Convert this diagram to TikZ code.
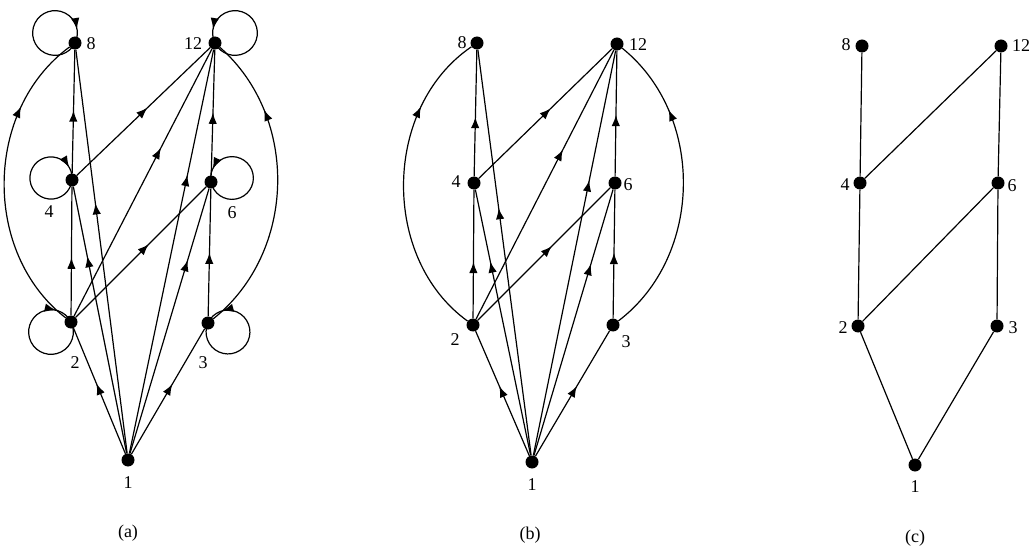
\documentclass[tikz,border=0pt]{standalone}
\usepackage{fontspec}
\setmainfont{Liberation Serif}
\usetikzlibrary{arrows.meta,decorations.markings}
\begin{document}
\begin{tikzpicture}[x=1pt,y=1pt,
  vtx/.style={circle,fill=black,inner sep=0pt,minimum size=13pt},
  lbl/.style={inner sep=0pt,font=\fontsize{18}{20}\selectfont},
  ln/.style={line width=1.2pt},
  arr/.style={ln,decoration={markings,mark=at position #1 with {\arrow[scale=1.35]{Latex}}},postaction={decorate}}
]
\useasboundingbox (0,0) rectangle (1029,550);

% ---------------- (a) ----------------
\node[vtx] (a8)  at (75,507) {};
\node[vtx] (a12) at (215,507) {};
\node[vtx] (a4)  at (72,370) {};
\node[vtx] (a6)  at (211,368) {};
\node[vtx] (a2)  at (71,228) {};
\node[vtx] (a3)  at (208,227) {};
\node[vtx] (a1)  at (128,90) {};
\node[lbl] (la8)  at (91,506) {8};
\node[lbl] (la12) at (193,506) {12};
\node[lbl] (la4)  at (49,338) {4};
\node[lbl] (la6)  at (232,337) {6};
\node[lbl] (la2)  at (75,187) {2};
\node[lbl] (la3)  at (203,187) {3};
\node[lbl] (la1)  at (128,67) {1};
\node[lbl] (lac)  at (128,17) {(a)};

\draw[arr=0.56] (a1) -- (a2);
\draw[arr=0.56] (a1) -- (a3);
\draw[arr=0.74] (a1) -- (a4);
\draw[arr=0.73] (a1) -- (a6);
\draw[arr=0.62] (a1) -- (a8);
\draw[arr=0.69] (a1) -- (a12);
\draw[arr=0.45] (a2) -- (a4);
\draw[arr=0.56] (a2) -- (a6);
\draw[arr=0.63] (a2) -- (a12);
\draw[arr=0.50] (a3) -- (a6);
\draw[arr=0.51] (a4) -- (a8);
\draw[arr=0.53] (a4) -- (a12);
\draw[arr=0.50] (a6) -- (a12);
\draw[arr=0.75] (a2) to[bend left=53] (a8);
\draw[arr=0.75] (a3) to[bend right=50] (a12);
\draw[arr=0.90] (a8.center) arc[start angle=333.43, end angle=-26.57, radius=22.36];
\draw[arr=0.90] (a12.center) arc[start angle=-153.43, end angle=206.57, radius=22.36];
\draw[arr=0.90] (a4.center) arc[start angle=354.56, end angle=-5.44, radius=21.1];
\draw[arr=0.90] (a6.center) arc[start angle=-169.22, end angle=190.78, radius=21.38];
\draw[arr=0.86] (a2.center) arc[start angle=386.57, end angle=26.57, radius=22.36];
\draw[arr=0.86] (a3.center) arc[start angle=-204.23, end angle=155.77, radius=21.93];

% ---------------- (b) ----------------
\node[vtx] (b8)  at (477,507) {};
\node[vtx] (b12) at (617,506) {};
\node[vtx] (b4)  at (474,367) {};
\node[vtx] (b6)  at (615,367) {};
\node[vtx] (b2)  at (473,225) {};
\node[vtx] (b3)  at (613,225) {};
\node[vtx] (b1)  at (532,88) {};
\node[lbl] (lb8)  at (462,507) {8};
\node[lbl] (lb12) at (638,505) {12};
\node[lbl] (lb4)  at (456,368) {4};
\node[lbl] (lb6)  at (628,365) {6};
\node[lbl] (lb2)  at (455,210) {2};
\node[lbl] (lb3)  at (626,208) {3};
\node[lbl] (lb1)  at (532,65) {1};
\node[lbl] (lbc)  at (530,15) {(b)};

\draw[arr=0.56] (b1) -- (b2);
\draw[arr=0.56] (b1) -- (b3);
\draw[arr=0.73] (b1) -- (b4);
\draw[arr=0.72] (b1) -- (b6);
\draw[arr=0.61] (b1) -- (b8);
\draw[arr=0.68] (b1) -- (b12);
\draw[arr=0.44] (b2) -- (b4);
\draw[arr=0.56] (b2) -- (b6);
\draw[arr=0.63] (b2) -- (b12);
\draw[arr=0.51] (b3) -- (b6);
\draw[arr=0.47] (b4) -- (b8);
\draw[arr=0.54] (b4) -- (b12);
\draw[arr=0.49] (b6) -- (b12);
\draw[arr=0.75] (b2) to[bend left=55] (b8);
\draw[arr=0.75] (b3) to[bend right=52] (b12);

% ---------------- (c) ----------------
\node[vtx] (c8)  at (862,504) {};
\node[vtx] (c12) at (1001,504) {};
\node[vtx] (c4)  at (860,367) {};
\node[vtx] (c6)  at (998,367) {};
\node[vtx] (c2)  at (858,224) {};
\node[vtx] (c3)  at (997,224) {};
\node[vtx] (c1)  at (915,85) {};
\node[lbl] (lc8)  at (846,505) {8};
\node[lbl] (lc12) at (1021,504) {12};
\node[lbl] (lc4)  at (845,365) {4};
\node[lbl] (lc6)  at (1012,364) {6};
\node[lbl] (lc2)  at (843,222) {2};
\node[lbl] (lc3)  at (1013,222) {3};
\node[lbl] (lc1)  at (915,63) {1};
\node[lbl] (lcc)  at (915,12) {(c)};

\draw[ln] (c8) -- (c4);
\draw[ln] (c4) -- (c2);
\draw[ln] (c12) -- (c4);
\draw[ln] (c12) -- (c6);
\draw[ln] (c6) -- (c2);
\draw[ln] (c6) -- (c3);
\draw[ln] (c2) -- (c1);
\draw[ln] (c3) -- (c1);
\end{tikzpicture}
\end{document}
